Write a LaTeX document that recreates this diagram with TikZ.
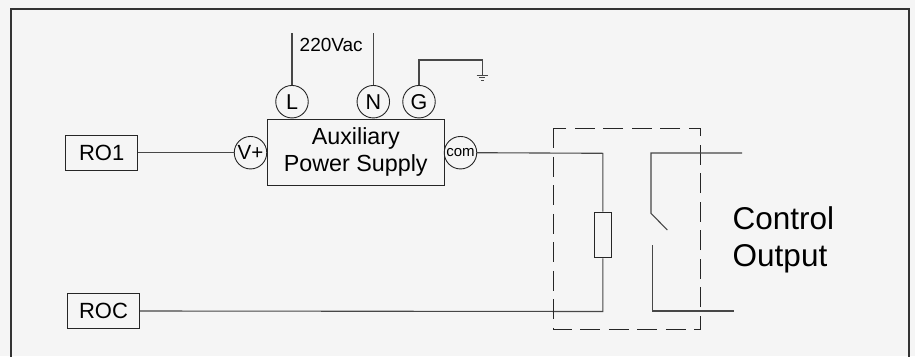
\documentclass[tikz,border=0pt]{standalone}
\usepackage{fontspec}
\setmainfont{Liberation Sans}
\begin{document}
\begin{tikzpicture}[x=1pt,y=-1pt,
  wire/.style={draw=black!72, line width=1.1pt},
  frame/.style={draw=black!80, line width=1.8pt},
  term/.style={circle, draw=black!85, line width=0.9pt, minimum size=32.5pt, inner sep=0pt, font=\fontsize{21.5}{21.5}\selectfont},
  blk/.style={rectangle, draw=black!85, line width=0.9pt, inner sep=0pt},
  dashbox/.style={draw=black!85, line width=1.1pt, dash pattern=on 20pt off 8.5pt},
  lbl/.style={inner sep=0pt}]
\useasboundingbox (0,0) rectangle (915,356);
\fill[black!4] (0,0) rectangle (915,356);
% outer frame (bottom edge beyond picture)
\draw[frame] (11,360) -- (11,9) -- (908.7,9) -- (908.7,360);

% power supply
\node[blk, minimum width=177pt, minimum height=66.7pt, align=center,
      font=\fontsize{23.3}{27}\selectfont] (aps) at (355.8,152.3) {Auxiliary\\Power Supply};
\node[term] (L) at (292,101.7) {L};
\node[term] (N) at (373.3,101.7) {N};
\node[term] (G) at (419,101.7) {G};
\node[term, font=\fontsize{20.5}{20.5}\selectfont] (vp) at (250.5,152.7) {V+};
\node[term, font=\fontsize{15}{15}\selectfont] (com) at (460.5,152.7) {com};

% input boxes
\node[blk, minimum width=72pt, minimum height=35.3pt, font=\fontsize{22}{22}\selectfont] (ro1) at (101.7,152.7) {RO1};
\node[blk, minimum width=72.4pt, minimum height=35.4pt, font=\fontsize{22}{22}\selectfont] (roc) at (103.5,311) {ROC};

% supply lines
\coordinate (Ltop) at (292,33);
\coordinate (Ntop) at (373.3,33);
\coordinate (Gc) at (482.3,60);
\coordinate (Gb) at (482.3,75);
\draw[wire] (L.north) -- (Ltop);
\draw[wire] (N.north) -- (Ntop);
\node[lbl, font=\fontsize{19}{19}\selectfont, anchor=west] (vac) at (299.5,44.5) {220Vac};
\draw[wire] (G.north) |- (Gc) -- (Gb);
\draw[wire, line width=1pt] (476.5,75) -- (488,75);
\draw[wire, line width=0.9pt] (479.3,77.5) -- (485.3,77.5);
\draw[wire, line width=0.8pt] (480.8,80) -- (483.8,80);

% relay
\node[blk, minimum width=17pt, minimum height=45.7pt] (res) at (602.8,235) {};
\coordinate (rtop) at (602.8,153.3);
\coordinate (rbot) at (602.8,311.5);
\draw[wire] (ro1.east) -- (vp.west);
\draw[wire] (com.east) -- (rtop) -- (res.north);
\draw[wire] (res.south) -- (rbot) -- (roc.east);
\draw[dashbox] (553.3,128.3) rectangle (700.7,329.3);

% switch contacts
\coordinate (s1) at (742,153);
\coordinate (s2) at (651,153);
\coordinate (s3) at (651,213.3);
\coordinate (s4) at (667.3,230);
\coordinate (c1) at (652.3,245.3);
\coordinate (c2) at (652.3,311);
\coordinate (c3) at (734.3,311);
\draw[wire] (s1) -- (s2) -- (s3) -- (s4);
\draw[wire] (c1) -- (c2) -- (c3);

\node[lbl, align=left, anchor=north west, font=\fontsize{31.5}{37}\selectfont] (out) at (732.5,206.5) {Control\\Output};
\end{tikzpicture}
\end{document}
